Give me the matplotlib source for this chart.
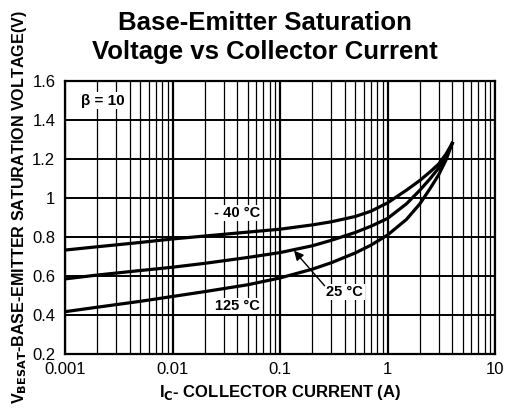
# Base-emitter saturation voltage vs collector current (datasheet style plot)
import numpy as np
import matplotlib.pyplot as plt
from matplotlib.ticker import FixedLocator, NullFormatter

plt.rcParams['font.family'] = ['Liberation Sans', 'DejaVu Sans']

# data
ic = [0.001, 0.002, 0.005, 0.01, 0.02, 0.05, 0.1, 0.2, 0.3, 0.5, 0.7,
      1.0, 1.5, 2.0, 2.5, 3.0, 3.5, 4.0]
vbe_m40 = [0.733, 0.75, 0.772, 0.79, 0.805, 0.825, 0.84, 0.862, 0.878, 0.905, 0.932,
           0.975, 1.04, 1.09, 1.135, 1.175, 1.225, 1.28]
vbe_25 = [0.585, 0.605, 0.628, 0.645, 0.665, 0.695, 0.72, 0.755, 0.783, 0.823, 0.855,
          0.895, 0.97, 1.04, 1.10, 1.155, 1.215, 1.28]
vbe_125 = [0.417, 0.44, 0.47, 0.495, 0.52, 0.555, 0.59, 0.635, 0.668, 0.718, 0.758,
           0.81, 0.89, 0.97, 1.05, 1.12, 1.195, 1.28]

xticks = [0.001, 0.01, 0.1, 1, 10]
xtick_labels = ['0.001', '0.01', '0.1', '1', '10']
yticks = [0.2, 0.4, 0.6, 0.8, 1.0, 1.2, 1.4, 1.6]
ytick_labels = ['0.2', '0.4', '0.6', '0.8', '1', '1.2', '1.4', '1.6']

fig = plt.figure(figsize=(5.05, 4.15), dpi=100)
ax = fig.add_axes([65 / 505, 61 / 415, 430 / 505, 273 / 415])

ax.set_xscale('log')
ax.set_xlim(0.001, 10)
ax.set_ylim(0.2, 1.6)

# grid: minor decade lines thin, major ones thick
minors = [m * 10.0 ** e for e in range(-3, 1) for m in range(2, 10)]
for x in minors:
    ax.axvline(x, color='black', lw=0.9, zorder=1)
for x in xticks:
    ax.axvline(x, color='black', lw=1.6, zorder=1)
for y in yticks:
    ax.axhline(y, color='black', lw=1.4, zorder=1)

ax.plot(ic, vbe_m40, color='black', lw=2.3, zorder=3)
ax.plot(ic, vbe_25, color='black', lw=2.3, zorder=3)
ax.plot(ic, vbe_125, color='black', lw=2.3, zorder=3)

ax.xaxis.set_major_locator(FixedLocator(xticks))
ax.xaxis.set_minor_locator(FixedLocator(minors))
ax.xaxis.set_minor_formatter(NullFormatter())
ax.set_xticklabels(xtick_labels)
ax.set_yticks(yticks)
ax.set_yticklabels(ytick_labels)
ax.tick_params(axis='both', which='both', length=0, labelsize=12)
ax.tick_params(axis='x', pad=6)
ax.tick_params(axis='y', pad=7)
for s in ax.spines.values():
    s.set_linewidth(1.6)

box = dict(facecolor='white', edgecolor='none', pad=1)
ax.text(0.00225, 1.50, 'β = 10', fontsize=11, fontweight='bold',
        ha='center', va='center', bbox=box, zorder=4)
ax.text(0.04, 0.923, '- 40 °C', fontsize=10.5, fontweight='bold',
        ha='center', va='center', bbox=box, zorder=4)
ax.text(0.04, 0.446, '125 °C', fontsize=10.5, fontweight='bold',
        ha='center', va='center', bbox=box, zorder=4)
ax.text(0.40, 0.518, '25 °C', fontsize=10.5, fontweight='bold',
        ha='center', va='center', bbox=box, zorder=4)
ax.annotate('', xy=(0.135, 0.73), xytext=(0.26, 0.55),
            arrowprops=dict(arrowstyle='-|>', color='black', lw=1, mutation_scale=14,
                            shrinkA=0, shrinkB=0),
            zorder=4)

ax.set_xlabel(r'I$_{\mathbf{C}}$- COLLECTOR CURRENT (A)', fontsize=12,
              fontweight='bold', labelpad=4)
fig.text(0.038, 0.5, r'V$_{\mathbf{BESAT}}$-BASE-EMITTER SATURATION VOLTAGE(V)',
         fontsize=11.6, fontweight='bold', rotation=90, ha='center', va='center')

fig.text(0.525, 0.945, 'Base-Emitter Saturation', fontsize=18.5, fontweight='bold',
         ha='center', va='center')
fig.text(0.525, 0.875, 'Voltage vs Collector Current', fontsize=18.5, fontweight='bold',
         ha='center', va='center')

fig.savefig('out.png', dpi=100)
